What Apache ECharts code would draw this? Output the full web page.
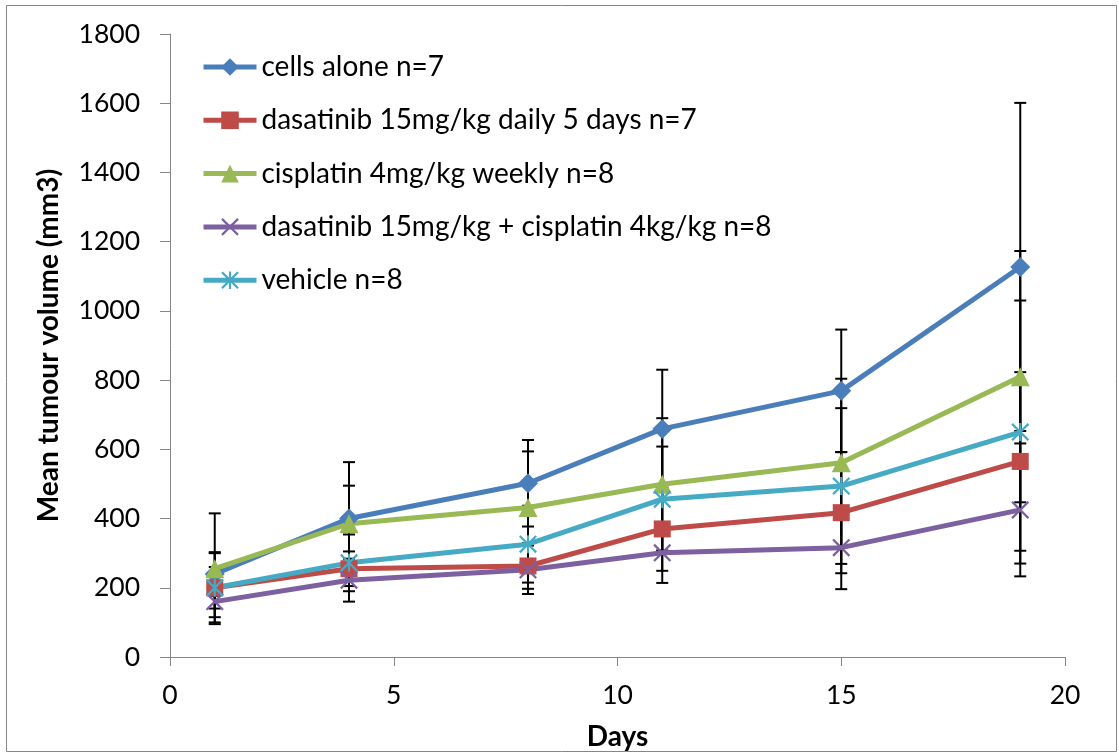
<!DOCTYPE html>
<html>
<head>
<meta charset="utf-8">
<script src="https://cdn.jsdelivr.net/npm/echarts@6/dist/echarts.min.js"></script>
<style>
html,body{margin:0;padding:0;background:#fff;}
#chart{width:1119px;height:756px;}
</style>
</head>
<body>
<div id="chart"></div>
<script>
const days = [1, 4, 8, 11, 15, 19];
const seriesNames = [
  'cells alone n=7',
  'dasatinib 15mg/kg daily 5 days n=7',
  'cisplatin 4mg/kg weekly n=8',
  'dasatinib 15mg/kg + cisplatin 4kg/kg n=8',
  'vehicle n=8'
];
const cellsAlone = [240, 400, 502, 659, 769, 1127];
const dasatinib = [200, 255, 263, 370, 417, 565];
const cisplatin = [255, 385, 432, 499, 561, 810];
const combo = [160, 222, 252, 301, 316, 425];
const vehicle = [200, 272, 326, 456, 494, 650];

const cellsAloneErr = [63, 163, 125, 171, 177, 474];
const dasatinibErr = [60, 50, 66, 121, 175, 258];
const cisplatinErr = [160, 110, 162, 191, 243, 363];
const comboErr = [45, 62, 70, 87, 120, 192];
const vehicleErr = [100, 82, 111, 152, 225, 380];

const yTicks = [0, 200, 400, 600, 800, 1000, 1200, 1400, 1600, 1800];
const xTicks = [0, 5, 10, 15, 20];

const means = [cellsAlone, dasatinib, cisplatin, combo, vehicle];
const errs = [cellsAloneErr, dasatinibErr, cisplatinErr, comboErr, vehicleErr];
const colors = ['#4A7EBB', '#BE4B48', '#98B954', '#7D60A0', '#46AAC5'];

const d = 9;
const xPath = 'path://M' + d + ' 0L50 ' + (50 - d) + 'L' + (100 - d) + ' 0L100 ' + d + 'L' + (50 + d) + ' 50L100 ' + (100 - d) +
  'L' + (100 - d) + ' 100L50 ' + (50 + d) + 'L' + d + ' 100L0 ' + (100 - d) + 'L' + (50 - d) + ' 50L0 ' + d + 'Z';
const starPath = xPath + 'M44 0L56 0L56 100L44 100Z';
const symbols = ['diamond', 'rect', 'triangle', xPath, starPath];
const symbolSizes = [20, 17, 19, 18, 18];

const font = 'Lato, "Open Sans", "Liberation Sans", sans-serif';

const lineSeries = means.map((vals, i) => ({
  name: seriesNames[i],
  type: 'line',
  data: days.map((x, j) => [x, vals[j]]),
  symbol: symbols[i],
  symbolSize: symbolSizes[i],
  showAllSymbol: true,
  lineStyle: { width: 5, color: colors[i] },
  itemStyle: { color: colors[i] },
  z: 3,
  animation: false
}));

const errSeries = means.map((vals, i) => ({
  name: seriesNames[i] + ' err',
  type: 'custom',
  data: days.map((x, j) => [x, vals[j], errs[i][j]]),
  z: 2,
  silent: true,
  animation: false,
  renderItem: function (params, api) {
    const x = api.value(0), y = api.value(1), e = api.value(2);
    const top = api.coord([x, y + e]);
    const bot = api.coord([x, y - e]);
    const hw = 6;
    const st = { stroke: '#000', lineWidth: 2 };
    return {
      type: 'group',
      children: [
        { type: 'line', shape: { x1: top[0], y1: top[1], x2: bot[0], y2: bot[1] }, style: st },
        { type: 'line', shape: { x1: top[0] - hw, y1: top[1], x2: top[0] + hw, y2: top[1] }, style: st },
        { type: 'line', shape: { x1: bot[0] - hw, y1: bot[1], x2: bot[0] + hw, y2: bot[1] }, style: st }
      ]
    };
  }
}));

const chart = echarts.init(document.getElementById('chart'), null, { renderer: 'canvas' });
chart.setOption({
  backgroundColor: '#fff',
  animation: false,
  textStyle: { fontFamily: font },
  graphic: [{
    type: 'rect',
    shape: { x: 6.5, y: 5.5, width: 1110, height: 746 },
    style: { fill: 'none', stroke: '#868686', lineWidth: 1 },
    silent: true
  }],
  grid: { left: 170, right: 54, top: 34, bottom: 98, containLabel: false },
  legend: {
    orient: 'vertical',
    left: 201,
    top: 52,
    padding: 0,
    data: seriesNames,
    itemWidth: 53,
    itemHeight: 22,
    itemGap: 23.3,
    lineStyle: { width: 5 },
    textStyle: { fontFamily: font, fontSize: 28, color: '#000', lineHeight: 30 }
  },
  xAxis: {
    type: 'value',
    min: 0, max: 20, interval: 5,
    name: 'Days',
    nameLocation: 'middle',
    nameGap: 66,
    nameTextStyle: { fontFamily: font, fontSize: 28, fontWeight: 'bold', color: '#000' },
    axisLine: { show: true, lineStyle: { color: '#868686', width: 1 } },
    axisTick: { show: true, length: 9, lineStyle: { color: '#868686' } },
    axisLabel: { margin: 25, fontFamily: font, fontSize: 26.5, color: '#000',
      formatter: v => xTicks.indexOf(v) >= 0 ? String(v) : '' },
    splitLine: { show: false }
  },
  yAxis: {
    type: 'value',
    min: 0, max: 1800, interval: 200,
    name: 'Mean tumour volume (mm3)',
    nameLocation: 'middle',
    nameGap: 107,
    nameTextStyle: { fontFamily: font, fontSize: 28, fontWeight: 'bold', color: '#000' },
    axisLine: { show: true, lineStyle: { color: '#868686', width: 1 } },
    axisTick: { show: true, length: 10, lineStyle: { color: '#868686' } },
    axisLabel: { margin: 30, fontFamily: font, fontSize: 26.5, color: '#000',
      formatter: v => yTicks.indexOf(v) >= 0 ? String(v) : '' },
    splitLine: { show: false }
  },
  series: errSeries.concat(lineSeries)
});
</script>
</body>
</html>
